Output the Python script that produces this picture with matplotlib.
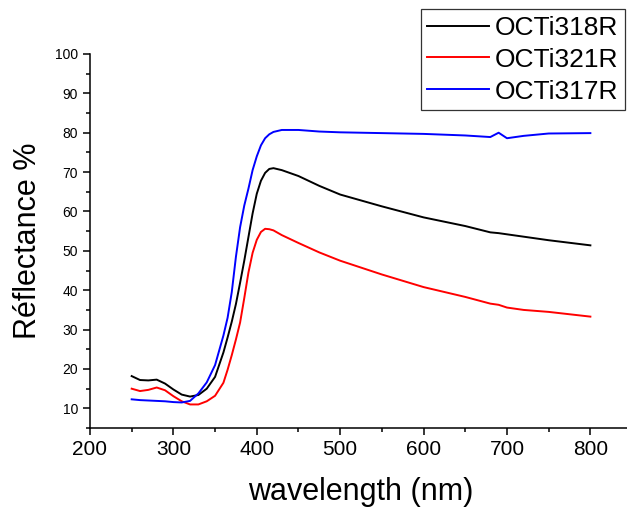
import matplotlib
matplotlib.use("Agg")
import matplotlib.pyplot as plt
from matplotlib.ticker import MultipleLocator

plt.rcParams['font.family'] = ['Liberation Sans', 'DejaVu Sans']

wavelength = [250, 260, 270, 280, 290, 300, 310, 320, 330, 340, 350, 360, 365, 370, 375, 380, 385,
              390, 395, 400, 405, 410, 415, 420, 430, 450, 475, 500, 550, 600, 650, 680, 690, 700,
              720, 750, 800]

octi318r = [18.2, 17.2, 17.1, 17.3, 16.3, 14.8, 13.5, 13.0, 13.4, 15.0, 18.0, 24.2, 28.0, 32.0, 36.5,
            41.9, 47.5, 53.5, 59.5, 64.5, 67.8, 69.8, 70.8, 71.0, 70.5, 69.0, 66.5, 64.3, 61.3, 58.5,
            56.3, 54.7, 54.5, 54.2, 53.6, 52.7, 51.4]
octi321r = [15.0, 14.4, 14.7, 15.3, 14.6, 13.1, 11.8, 11.0, 11.0, 11.8, 13.2, 16.5, 19.8, 23.5, 27.5,
            31.8, 38.0, 44.5, 49.5, 52.8, 54.8, 55.6, 55.5, 55.2, 54.0, 52.0, 49.6, 47.5, 44.0, 40.8,
            38.3, 36.6, 36.3, 35.6, 35.0, 34.5, 33.3]
octi317r = [12.3, 12.1, 12.0, 11.9, 11.8, 11.6, 11.5, 11.9, 13.8, 16.6, 21.0, 28.5, 33.0, 39.5, 48.5,
            56.0, 61.5, 65.8, 70.5, 74.0, 76.8, 78.6, 79.6, 80.2, 80.7, 80.7, 80.3, 80.1, 79.9, 79.7,
            79.3, 78.9, 80.0, 78.6, 79.2, 79.8, 79.9]

fig = plt.figure(figsize=(6.27, 5.09), dpi=100)
ax = fig.add_axes([0.1435, 0.159, 0.8646, 0.735])

ax.plot(wavelength, octi318r, color='black', lw=1.4, label='OCTi318R')
ax.plot(wavelength, octi321r, color='red', lw=1.4, label='OCTi321R')
ax.plot(wavelength, octi317r, color='blue', lw=1.4, label='OCTi317R')

ax.set_xlim(200, 850)
ax.set_ylim(5, 100)
ax.xaxis.set_major_locator(MultipleLocator(100))
ax.xaxis.set_minor_locator(MultipleLocator(50))
ax.yaxis.set_major_locator(MultipleLocator(10))
ax.yaxis.set_minor_locator(MultipleLocator(5))
ax.set_yticks(range(10, 101, 10))

ax.spines['top'].set_visible(False)
ax.spines['right'].set_visible(False)
for s in ('left', 'bottom'):
    ax.spines[s].set_linewidth(1.1)

ax.tick_params(which='major', direction='out', length=5, width=1.1)
ax.tick_params(which='minor', direction='out', length=3, width=1.1)
ax.tick_params(axis='x', labelsize=15)
ax.tick_params(axis='y', labelsize=10)

ax.set_xlabel('wavelength (nm)', fontsize=22, labelpad=13)
ax.set_ylabel('Réflectance %', fontsize=22, labelpad=9)

leg = fig.legend(loc='upper left', bbox_to_anchor=(0.671, 0.982), fontsize=19,
                 frameon=True, fancybox=False, edgecolor='#333333', framealpha=1,
                 labelspacing=0.3, handlelength=2.35, handletextpad=0.2,
                 borderpad=0.25, borderaxespad=0)
leg.get_frame().set_linewidth(0.9)

fig.savefig('out.png', dpi=100)
